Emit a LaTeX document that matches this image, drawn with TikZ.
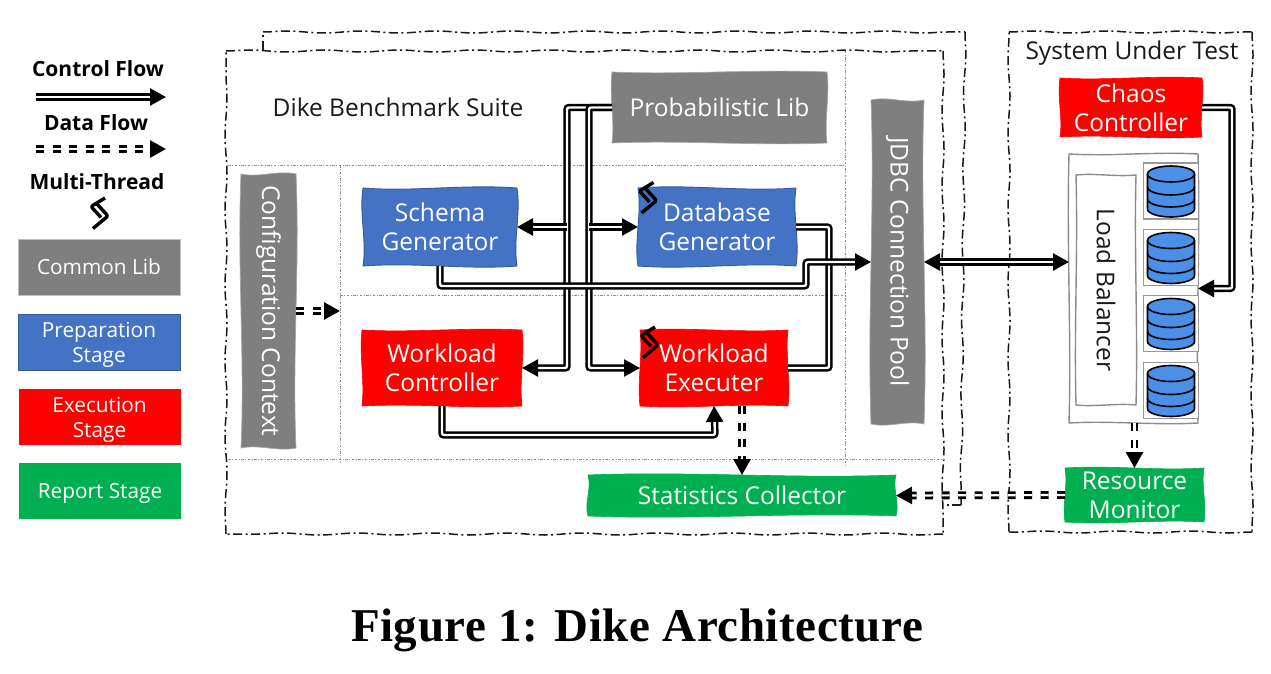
\documentclass[tikz,border=0pt]{standalone}
\usepackage{fontspec}
\usepackage{graphicx}
\setmainfont{Open Sans}
\newfontfamily\capfont[LetterSpace=1.2]{Liberation Serif}
\usetikzlibrary{arrows.meta,decorations.pathmorphing,calc,backgrounds}
\definecolor{libgray}{HTML}{7F7F7F}
\definecolor{prepblue}{HTML}{4472C4}
\definecolor{execred}{HTML}{FF0000}
\definecolor{repgreen}{HTML}{00B050}
\definecolor{dbblue}{HTML}{4A90E8}
\newcommand{\bigtxt}{\fontsize{24.5}{29}\selectfont}
\newcommand{\legtxt}{\fontsize{20.8}{25}\selectfont}
\newcommand{\dropped}[2]{\raisebox{-#1}[\height][\depth]{#2}}
% wavy outline behind a named node: \wavy[amplitude]{node}{path options}
\newcommand{\wavy}[3][3]{%
  \path[#3]
    (#2.north west)
    .. controls ($(#2.north west)!.33!(#2.north east)+(0,#1)$) and ($(#2.north west)!.66!(#2.north east)+(0,-#1)$) .. (#2.north east)
    .. controls ($(#2.north east)!.33!(#2.south east)+(#1,0)$) and ($(#2.north east)!.66!(#2.south east)+(-#1,0)$) .. (#2.south east)
    .. controls ($(#2.south east)!.33!(#2.south west)+(0,#1)$) and ($(#2.south east)!.66!(#2.south west)+(0,-#1)$) .. (#2.south west)
    .. controls ($(#2.south west)!.33!(#2.north west)+(#1,0)$) and ($(#2.south west)!.66!(#2.north west)+(-#1,0)$) .. cycle;}
\tikzset{
  block/.style={inner sep=0pt,outer sep=0pt,align=center,text=white,font=\bigtxt,minimum width=#1},
  boxh/.style={minimum height=#1},
  liblook/.style={fill=libgray,draw=black!35,line width=.7pt},
  preplook/.style={fill=prepblue,draw=prepblue!80!black,line width=.9pt},
  execlook/.style={fill=execred,draw=execred,line width=.6pt},
  replook/.style={fill=repgreen,draw=repgreen,line width=.6pt},
  legend/.style={inner sep=0pt,align=center,text=white,font=\legtxt,minimum width=162pt,minimum height=56pt},
  legendlabel/.style={inner sep=0pt,font=\fontsize{21}{25}\selectfont\bfseries,text=black},
  heading/.style={inner sep=0pt,font=\bigtxt,text=black!90},
  frameline/.style={draw=black!90,line width=1.5pt,dash pattern=on 9pt off 3.5pt on 2pt off 3.5pt,
    decorate,decoration={snake,amplitude=1pt,segment length=75pt}},
  divider/.style={draw=black!45,line width=.8pt,dash pattern=on 2.5pt off 1.5pt on 1pt off 1.5pt},
  ctrl/.style={draw=black,line width=2.5pt,double=white,double distance=2.4pt,rounded corners=2pt},
  ctrltip/.style={ctrl,-{Triangle[length=16pt,width=17pt]}},
  ctrltips/.style={ctrl,{Triangle[length=16pt,width=17pt]}-{Triangle[length=16pt,width=17pt]}},
  dataflow/.style={draw=black,line width=2.8pt,double=white,double distance=2.2pt,
    dash pattern=on 8pt off 8.5pt,-{Triangle[length=16pt,width=17pt]}},
  hostbox/.style={inner sep=0pt,outer sep=0pt},
  hostlook/.style={draw=black!45,line width=1.4pt,fill=white},
  dbcell/.style={draw=black!40,line width=1.2pt,fill=white,inner sep=0pt,minimum width=55pt,minimum height=56pt},
  threadmark/.pic={
    \draw[black,line width=3.4pt,line join=round,line cap=butt,rounded corners=2pt]
      (7,-15) -- (-7,-6.5) -- (3,4.5);
    \draw[black,line width=3.4pt,line join=round,line cap=butt,rounded corners=2pt]
      (-1,-9) -- (10,3) -- (-5,15.5);
  },
  dbicon/.pic={
    \path[fill=dbblue,draw=black,line width=1.6pt]
      (-23.5,-17) -- (-23.5,18) arc[start angle=180,end angle=360,x radius=23.5pt,y radius=8pt]
      -- (23.5,-17) arc[start angle=0,end angle=180,x radius=23.5pt,y radius=8pt] -- cycle;
    \draw[black,line width=1.6pt] (-23.5,-17) arc[start angle=180,end angle=360,x radius=23.5pt,y radius=8pt];
    \draw[black,line width=1.6pt] (-23.5,-4) arc[start angle=180,end angle=360,x radius=23.5pt,y radius=8pt];
    \draw[black,line width=1.6pt] (-23.5,8) arc[start angle=180,end angle=360,x radius=23.5pt,y radius=8pt];
  },
}
\begin{document}
\begin{tikzpicture}[x=1pt,y=-1pt]
\useasboundingbox (0,0) rectangle (1271,674);

% frames
\draw[frameline] (263,50) -- (263,32);
\draw[frameline] (263,32) -- (965,32);
\draw[frameline] (965,32) -- (961,505);
\draw[frameline] (961,505) -- (942,505);
\draw[frameline] (226,51) -- (943,51);
\draw[frameline] (943,51) -- (943,534);
\draw[frameline] (943,534) -- (226,534);
\draw[frameline] (226,534) -- (226,51);
\draw[frameline] (1009,32) -- (1252,32);
\draw[frameline] (1252,32) -- (1252,532);
\draw[frameline] (1252,532) -- (1009,532);
\draw[frameline] (1009,532) -- (1009,32);

% dividers
\draw[divider] (228,165) -- (845,165);
\draw[divider] (845,51) -- (845,465);
\draw[divider] (228,459) -- (945,459);
\draw[divider] (340,165) -- (340,463);
\draw[divider] (340,295) -- (845,295);

% legend
\node[legendlabel] (lgctrl) at (98,69) {Control Flow};
\node[legendlabel] (lgdata) at (96,123) {Data Flow};
\node[legendlabel] (lgmulti) at (97,182) {Multi-Thread};
\coordinate (lgctrlA) at (36,97);
\coordinate (lgctrlB) at (166,97);
\coordinate (lgdataA) at (36,149);
\coordinate (lgdataB) at (166,149);
\draw[ctrltip] (lgctrlA) -- (lgctrlB);
\draw[dataflow] (lgdataA) -- (lgdataB);
\pic at (98,213) {threadmark};
\node[legend,fill=libgray,draw=black!25,line width=.6pt] (lgcommon) at (99,267) {Common Lib};
\node[legend,preplook,line width=1pt] (lgprep) at (99,342) {\dropped{3pt}{Preparation}\\\dropped{3pt}{Stage}};
\node[legend,fill=execred] (lgexec) at (99.5,416.5) {\dropped{3pt}{Execution}\\\dropped{3pt}{Stage}};
\node[legend,fill=repgreen] (lgrep) at (100,491) {\dropped{2pt}{Report Stage}};

% headings
\node[heading] (suite) at (398,107) {Dike Benchmark Suite};
\node[heading] (sut) at (1132,53) {System Under Test};

% blocks
\node[block=215pt,boxh=71pt] (prob) at (719.5,107.5) {Probabilistic Lib};
\node[block=53pt,boxh=324pt] (jdbc) at (897.5,262) {\rotatebox{-90}{JDBC Connection Pool}};
\node[block=55pt,boxh=274pt] (config) at (268.5,311) {\rotatebox{-90}{Configuration Context}};
\node[block=154pt,boxh=78pt] (schema) at (440,227) {Schema\\Generator};
\node[block=158pt,boxh=78pt] (dbgen) at (717,227) {Database\\Generator};
\node[block=160pt,boxh=76pt] (wctrl) at (442,368) {Workload\\Controller};
\node[block=148pt,boxh=76pt] (wexec) at (714,368) {Workload\\Executer};
\node[block=308pt,boxh=41pt] (stat) at (742,495.5) {Statistics Collector};
\node[block=142pt,boxh=59pt] (chaos) at (1131,107.5) {Chaos\\Controller};
\node[block=139pt,boxh=54pt] (resmon) at (1134.5,495) {Resource\\Monitor};

% load balancer and hosts
\node[hostbox,minimum width=129pt,minimum height=269pt] (lb) at (1133.5,288.5) {};
\node[hostbox,minimum width=60pt,minimum height=230pt,font=\bigtxt,text=black!90] (lbtext) at (1106,290) {\rotatebox{-90}{Load Balancer}};
\node[dbcell] (dbA) at (1171,191) {};
\node[dbcell] (dbB) at (1171,257.5) {};
\node[dbcell] (dbC) at (1171,323.5) {};
\node[dbcell] (dbD) at (1171,390.5) {};
\pic at (dbA) {dbicon};
\pic at (dbB) {dbicon};
\pic at (dbC) {dbicon};
\pic at (dbD) {dbicon};

% wavy outlines
\begin{scope}[on background layer]
  \wavy[3]{prob}{liblook}
  \wavy[-4]{jdbc}{liblook}
  \wavy[4]{config}{liblook}
  \wavy[4]{schema}{preplook}
  \wavy[-4]{dbgen}{preplook}
  \wavy[3]{wctrl}{execlook}
  \wavy[-3]{wexec}{execlook}
  \wavy[-4]{stat}{replook}
  \wavy[3]{chaos}{execlook}
  \wavy[-3]{resmon}{replook}
  \wavy[2.5]{lb}{hostlook}
  \wavy[-2]{lbtext}{hostlook}
\end{scope}

% bends and free ends
\coordinate (busA) at (567,227);
\coordinate (busB) at (589,227);
\coordinate (busC) at (829,227);
\coordinate (riseX) at (806,286);
\coordinate (ctxEnd) at (340,311);

% control flow
\draw[ctrltip] (prob.west) -| (busA) -- (busA |- wctrl.east) -- (wctrl.east);
\draw[ctrltip] (prob.west) -| (busB) -- (busB |- wexec.west) -- (wexec.west);
\draw[ctrltip] (busA) -- (schema.east);
\draw[ctrltip] (busB) -- (dbgen.west);
\draw[ctrl] (dbgen.east) -- (busC) -- (busC |- wexec.east) -- (wexec.east);
\draw[ctrltip] (schema.south) |- (riseX) -- (riseX |- jdbc.west) -- (jdbc.west);
\draw[ctrltip] (wctrl.south) |- (715,435) -- (wexec.south);
\draw[ctrltips] (jdbc.east) -- (lb.west |- jdbc.east);
\draw[ctrltip] (chaos.east) -| (1232,288.5) -- (lb.east);

% data flow
\draw[dataflow] (config.east |- ctxEnd) -- (ctxEnd);
\draw[dataflow] (wexec.south -| stat.north) -- (stat.north);
\draw[dataflow] (resmon.north |- lb.south) -- (resmon.north);
\draw[dataflow] (resmon.west) -- (stat.east);

% thread marks
\pic at (646.5,197.5) {threadmark};
\pic at (648,342) {threadmark};

% caption
\node[inner sep=0pt,font=\capfont\fontsize{47}{54}\selectfont\bfseries] (cap) at (637,630) {Figure 1: Dike Architecture};
\end{tikzpicture}
\end{document}
